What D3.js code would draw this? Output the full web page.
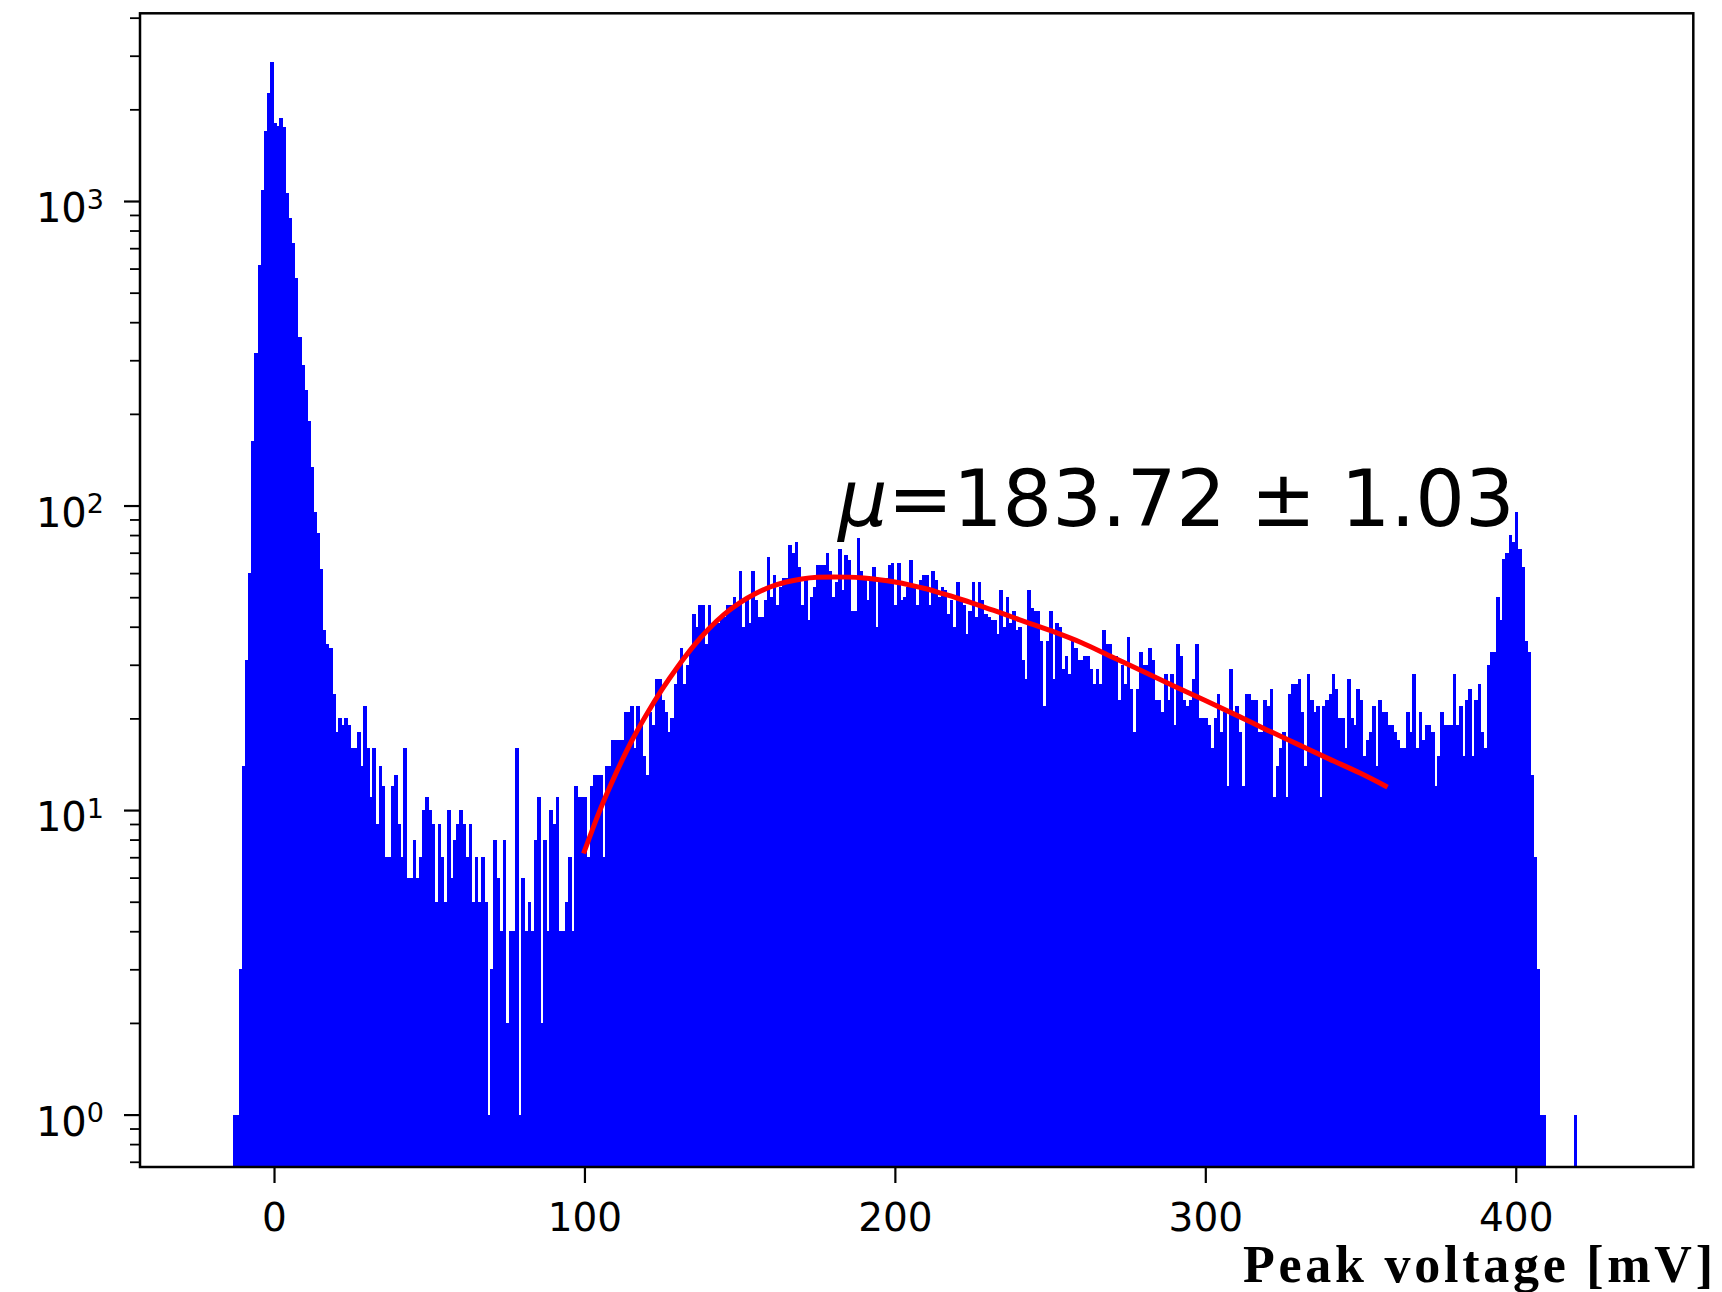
<!DOCTYPE html>
<html>
<head>
<meta charset="utf-8">
<script src="https://cdn.jsdelivr.net/npm/d3@7"></script>
<style>
  body { margin: 0; background: #fff; }
  text { font-family: "DejaVu Sans", sans-serif; fill: #000; }
</style>
</head>
<body>
<div id="chart"></div>
<script>
// peak voltage histogram, 1 mV bins starting at -13.3 mV
var binStart = -13.3;
var binWidth = 1.0;
var counts = [
    1, 1, 3, 14, 31, 60, 163, 318, 615, 1084, 1700, 2255, 2864, 1798, 1760, 1875, 1748, 1065, 880, 730,
    558, 358, 290, 240, 189, 134, 95, 81, 62, 39, 35, 34, 24, 18, 20, 19, 20, 19, 16, 16,
    18, 14, 22, 16, 11, 16, 9, 14, 12, 7, 7, 12, 13, 9, 7, 16, 6, 6, 8, 6,
    7, 10, 11, 10, 9, 5, 9, 7, 5, 10, 6, 8, 9, 10, 9, 7, 9, 5, 7, 5,
    7, 5, 1, 3, 8, 6, 4, 8, 2, 4, 4, 16, 1, 6, 4, 5, 4, 8, 11, 2,
    8, 4, 10, 9, 11, 4, 4, 5, 7, 4, 12, 11, 11, 11, 7, 12, 13, 13, 13, 7,
    14, 14, 17, 17, 17, 17, 21, 21, 22, 16, 22, 19, 15, 13, 21, 19, 27, 27, 23, 21,
    18, 20, 26, 30, 34, 26, 30, 34, 44, 40, 47, 47, 35, 47, 40, 41, 41, 43, 43, 47,
    47, 50, 48, 61, 40, 49, 41, 61, 49, 43, 43, 49, 68, 50, 59, 47, 54, 58, 58, 74,
    70, 76, 63, 47, 57, 42, 50, 54, 64, 64, 64, 70, 61, 50, 56, 72, 53, 69, 66, 45,
    45, 78, 61, 58, 49, 57, 63, 40, 57, 57, 58, 64, 65, 47, 65, 49, 50, 54, 66, 54,
    47, 57, 59, 59, 47, 61, 57, 50, 54, 53, 44, 49, 40, 56, 49, 47, 38, 45, 56, 43,
    56, 49, 44, 43, 42, 42, 38, 53, 40, 50, 41, 45, 39, 40, 31, 27, 53, 46, 45, 45,
    36, 22, 36, 45, 27, 41, 40, 29, 32, 28, 37, 34, 31, 31, 32, 32, 29, 26, 29, 26,
    39, 35, 35, 32, 32, 23, 30, 26, 37, 25, 18, 25, 33, 30, 30, 34, 31, 23, 23, 21,
    28, 23, 28, 19, 35, 32, 23, 22, 23, 27, 35, 20, 20, 20, 19, 16, 20, 24, 18, 21,
    12, 29, 21, 22, 18, 12, 24, 24, 23, 23, 18, 18, 23, 22, 25, 11, 14, 16, 18, 11,
    24, 26, 26, 27, 21, 14, 28, 23, 21, 22, 11, 22, 23, 24, 28, 25, 20, 20, 16, 27,
    20, 19, 25, 23, 15, 17, 18, 22, 14, 23, 21, 21, 19, 19, 18, 17, 16, 16, 21, 18,
    28, 16, 21, 17, 19, 19, 18, 12, 15, 21, 19, 19, 19, 28, 19, 22, 15, 23, 25, 15,
    23, 26, 18, 16, 30, 33, 33, 50, 42, 67, 70, 80, 76, 95, 72, 63, 36, 33, 13, 7,
    3, 1, 1, 0, 0, 0, 0, 0, 0, 0, 0, 0, 1
];

// fitted curve (mV, counts)
var fitX = [100, 105, 110, 115, 120, 125, 130, 135, 140, 145, 150, 155, 160, 165, 170, 175, 180,
    185, 190, 195, 200, 205, 210, 215, 220, 225, 230, 235, 240, 250, 260, 270, 280, 290, 300,
    310, 320, 330, 340, 350, 358];
var fitY = [7.33, 10.0, 13.1, 16.7, 20.6, 24.9, 29.5, 34.4, 39.3, 43.9, 47.9, 51.3, 54.1, 56.1,
    57.4, 58.1, 58.3, 58.2, 57.8, 57.1, 56.1, 54.8, 53.3, 51.5, 49.7, 47.8, 45.9, 44.1, 42.2,
    38.9, 35.5, 31.8, 28.5, 25.5, 22.9, 20.5, 18.3, 16.4, 14.7, 13.2, 12.0];

var xTicks = [0, 100, 200, 300, 400];
var yTicks = [1, 10, 100, 1000];
var yTickExp = ["0", "1", "2", "3"];
var yMinorTicks = [0.7, 0.8, 0.9, 2, 3, 4, 5, 6, 7, 8, 9, 20, 30, 40, 50, 60, 70, 80, 90,
    200, 300, 400, 500, 600, 700, 800, 900, 2000, 3000, 4000];
var fitMean = "183.72";
var fitErr = "1.03";
var xLabel = "Peak voltage [mV]";

var W = 1722, H = 1292;
var plot = {left: 140, right: 1693.3, top: 13.3, bottom: 1167};

var x = d3.scaleLinear().domain([-43.17, 457.2]).range([plot.left, plot.right]);
var y = d3.scaleLog()
    .domain([Math.pow(10, -0.1721), Math.pow(10, 3.6164)])
    .range([plot.bottom, plot.top]);

var svg = d3.select("#chart").append("svg")
    .attr("width", W)
    .attr("height", H);

svg.append("rect").attr("width", W).attr("height", H).attr("fill", "#fff");

svg.append("clipPath").attr("id", "clip")
    .append("rect")
    .attr("x", plot.left).attr("y", plot.top)
    .attr("width", plot.right - plot.left)
    .attr("height", plot.bottom - plot.top);

// histogram bars (empty bins are not drawn on a log axis)
var bins = counts.map(function(c, i) { return {i: i, c: c}; })
    .filter(function(d) { return d.c > 0; });

svg.append("g")
    .attr("clip-path", "url(#clip)")
    .attr("shape-rendering", "crispEdges")
    .selectAll("rect")
    .data(bins)
    .enter().append("rect")
    .attr("x", function(d) { return x(binStart + d.i * binWidth); })
    .attr("width", function(d) {
        return x(binStart + (d.i + 1) * binWidth) - x(binStart + d.i * binWidth) + 0.5;
    })
    .attr("y", function(d) { return y(d.c); })
    .attr("height", function(d) { return plot.bottom - y(d.c); })
    .attr("fill", "#0000ff");

// fit curve
var fitline = d3.line()
    .x(function(d) { return x(d[0]); })
    .y(function(d) { return y(d[1]); })
    .curve(d3.curveMonotoneX);

svg.append("path")
    .datum(d3.zip(fitX, fitY))
    .attr("d", fitline)
    .attr("fill", "none")
    .attr("stroke", "#ff0000")
    .attr("stroke-width", 5)
    .attr("stroke-linecap", "square");

// axes frame
svg.append("rect")
    .attr("x", plot.left).attr("y", plot.top)
    .attr("width", plot.right - plot.left)
    .attr("height", plot.bottom - plot.top)
    .attr("fill", "none")
    .attr("stroke", "#000")
    .attr("stroke-width", 2.5);

// x axis
var xAxis = svg.append("g")
    .attr("transform", "translate(0," + plot.bottom + ")")
    .call(d3.axisBottom(x).tickValues(xTicks).tickSize(16).tickSizeOuter(0));
xAxis.select(".domain").remove();
xAxis.selectAll("line").attr("stroke", "#000").attr("stroke-width", 2.2);
xAxis.selectAll("text")
    .attr("y", 64).attr("dy", null)
    .style("font-size", "39px")
    .style("font-family", "'DejaVu Sans', sans-serif")
    .attr("fill", "#1a1a1a");

// y axis: major and minor ticks
var yMajor = svg.append("g")
    .attr("transform", "translate(" + plot.left + ",0)")
    .call(d3.axisLeft(y).tickValues(yTicks).tickSize(16).tickSizeOuter(0).tickFormat(""));
yMajor.select(".domain").remove();
yMajor.selectAll("line").attr("stroke", "#000").attr("stroke-width", 2.2);

var yMinor = svg.append("g")
    .attr("transform", "translate(" + plot.left + ",0)")
    .call(d3.axisLeft(y).tickValues(yMinorTicks).tickSize(10).tickSizeOuter(0).tickFormat(""));
yMinor.select(".domain").remove();
yMinor.selectAll("line").attr("stroke", "#000").attr("stroke-width", 1.8);

yTicks.forEach(function(v, i) {
    var t = svg.append("text")
        .attr("x", 104)
        .attr("y", y(v) + 21)
        .attr("text-anchor", "end")
        .attr("fill", "#1a1a1a")
        .style("font-size", "40px");
    t.append("tspan").text("10");
    t.append("tspan").attr("dy", -13.5).style("font-size", "27px").text(yTickExp[i]);
});

// fit result
var lab = svg.append("text")
    .attr("x", 838)
    .attr("y", 526)
    .style("font-size", "78px");
lab.append("tspan").style("font-style", "italic").text("\u03bc");
lab.append("tspan").text("=" + fitMean + " \u00b1 " + fitErr);

// x label
svg.append("text")
    .attr("x", 1243)
    .attr("y", 1282)
    .attr("textLength", 470)
    .attr("lengthAdjust", "spacing")
    .style("font-family", "'Liberation Serif', serif")
    .style("font-weight", "bold")
    .style("font-size", "52px")
    .text(xLabel);
</script>
</body>
</html>
